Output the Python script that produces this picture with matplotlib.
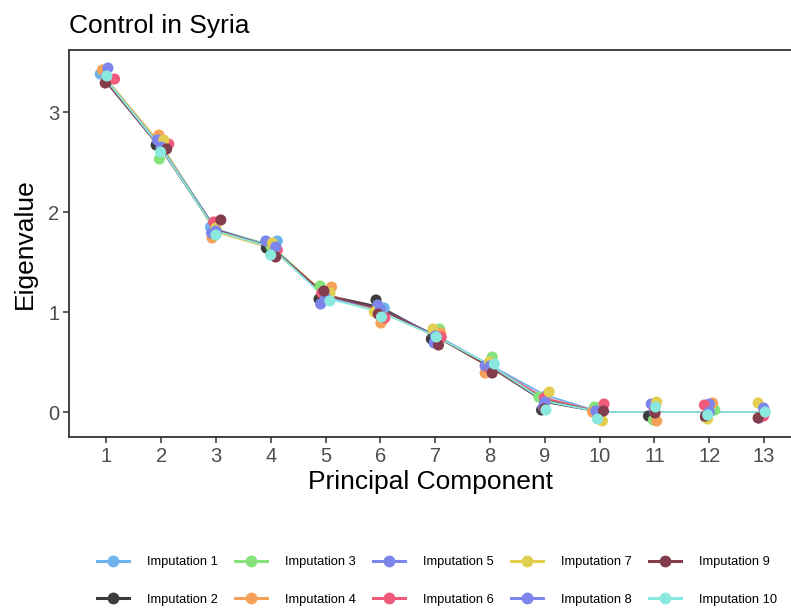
import matplotlib
matplotlib.use("Agg")
import matplotlib.pyplot as plt
from matplotlib.lines import Line2D

plt.rcParams["font.family"] = ["Liberation Sans", "DejaVu Sans"]

components = list(range(1, 14))
labels = [f"Imputation {i}" for i in range(1, 11)]
colors = ["#6FB3EE", "#3C3C3C", "#86E27A", "#F5A159", "#7D85EA",
          "#EF5A7B", "#E2CF52", "#7C86EB", "#833D4D", "#8AE8DE"]

# eigenvalues per imputation (lines)
eigen = [
    [3.33, 2.66, 1.83, 1.66, 1.16, 1.02, 0.77, 0.47, 0.17, 0, 0, 0, 0],
    [3.30, 2.64, 1.81, 1.65, 1.17, 1.05, 0.76, 0.45, 0.10, 0, 0, 0, 0],
    [3.32, 2.67, 1.82, 1.67, 1.17, 1.01, 0.77, 0.46, 0.13, 0, 0, 0, 0],
    [3.33, 2.67, 1.80, 1.65, 1.18, 1.01, 0.77, 0.45, 0.12, 0, 0, 0, 0],
    [3.32, 2.64, 1.82, 1.65, 1.15, 1.03, 0.76, 0.46, 0.12, 0, 0, 0, 0],
    [3.31, 2.65, 1.82, 1.65, 1.16, 1.02, 0.76, 0.46, 0.14, 0, 0, 0, 0],
    [3.33, 2.67, 1.80, 1.64, 1.16, 1.00, 0.76, 0.45, 0.12, 0, 0, 0, 0],
    [3.32, 2.65, 1.82, 1.66, 1.15, 1.03, 0.77, 0.46, 0.11, 0, 0, 0, 0],
    [3.30, 2.63, 1.82, 1.65, 1.17, 1.03, 0.76, 0.45, 0.12, 0, 0, 0, 0],
    [3.32, 2.64, 1.81, 1.65, 1.14, 1.00, 0.76, 0.47, 0.11, 0, 0, 0, 0],
]

# jittered point positions
point_x = [
    [0.89, 2.00, 2.90, 4.12, 5.00, 6.07, 7.00, 8.00, 9.03, 9.90, 11.00, 12.00, 13.00],
    [1.00, 1.91, 3.00, 3.92, 4.88, 5.92, 6.93, 7.95, 8.94, 10.00, 10.89, 11.93, 13.00],
    [1.00, 1.97, 3.00, 4.00, 4.90, 6.00, 7.08, 8.04, 8.89, 9.91, 10.98, 12.10, 13.00],
    [0.93, 1.96, 2.93, 4.05, 5.11, 6.01, 7.10, 7.91, 9.00, 9.87, 11.04, 12.06, 13.00],
    [1.03, 1.93, 2.92, 3.91, 4.91, 5.95, 6.98, 7.91, 8.97, 9.93, 10.94, 12.00, 12.91],
    [1.15, 2.14, 2.96, 4.12, 4.93, 6.08, 7.11, 8.00, 8.99, 10.08, 11.00, 11.91, 12.99],
    [1.00, 2.05, 3.00, 4.03, 5.08, 5.89, 6.96, 7.99, 9.08, 10.05, 11.04, 11.97, 12.89],
    [1.00, 2.00, 3.00, 4.09, 5.00, 6.00, 7.00, 8.00, 9.00, 10.00, 11.00, 12.00, 12.99],
    [0.98, 2.10, 3.09, 4.09, 4.97, 5.96, 7.06, 8.04, 8.99, 10.07, 11.01, 11.93, 12.89],
    [1.01, 1.99, 3.00, 4.00, 5.08, 6.02, 7.02, 8.08, 9.02, 9.96, 11.02, 11.97, 13.02],
]
point_y = [
    [3.38, 2.66, 1.85, 1.71, 1.15, 1.04, 0.77, 0.47, 0.17, 0.04, 0.00, 0.00, 0.01],
    [3.30, 2.67, 1.80, 1.64, 1.13, 1.12, 0.73, 0.44, 0.02, 0.00, -0.04, -0.05, -0.02],
    [3.34, 2.53, 1.82, 1.66, 1.26, 1.02, 0.83, 0.55, 0.15, 0.05, -0.08, 0.02, 0.01],
    [3.42, 2.77, 1.74, 1.67, 1.25, 0.89, 0.79, 0.39, 0.10, 0.00, -0.09, 0.09, 0.02],
    [3.44, 2.72, 1.79, 1.71, 1.08, 1.07, 0.69, 0.46, 0.05, 0.01, 0.08, 0.08, -0.06],
    [3.33, 2.68, 1.90, 1.62, 1.19, 0.94, 0.75, 0.43, 0.14, 0.08, 0.02, 0.07, -0.04],
    [3.35, 2.72, 1.84, 1.69, 1.19, 1.00, 0.83, 0.50, 0.20, -0.09, 0.10, -0.07, 0.09],
    [3.36, 2.65, 1.81, 1.65, 1.14, 1.03, 0.76, 0.46, 0.10, 0.00, 0.00, 0.00, 0.04],
    [3.29, 2.63, 1.92, 1.55, 1.21, 0.98, 0.67, 0.39, 0.03, 0.01, -0.01, -0.04, -0.06],
    [3.36, 2.60, 1.77, 1.57, 1.11, 0.95, 0.75, 0.48, 0.02, -0.07, 0.05, -0.03, 0.00],
]

fig = plt.figure(figsize=(7.91, 6.13), dpi=100)
ax = fig.add_axes([69 / 791, 1 - 437 / 613, 1 - 69 / 791, (437 - 50) / 613])

for ys, px, py, c in zip(eigen, point_x, point_y, colors):
    ax.plot(components, ys, color=c, lw=1.3, zorder=2)
    ax.scatter(px, py, s=64, color=c, edgecolors="none", zorder=3)

ax.set_xlim(0.32, 13.49)
ax.set_ylim(-0.25, 3.62)
ax.set_xticks(components)
ax.set_yticks([0, 1, 2, 3])
ax.tick_params(colors="#333333", labelcolor="#4D4D4D", labelsize=14.5,
               length=4, width=1.1, pad=3)
for side in ["left", "bottom", "top"]:
    ax.spines[side].set_color("#333333")
    ax.spines[side].set_linewidth(1.3)
ax.spines["right"].set_visible(False)

ax.set_xlabel("Principal Component", fontsize=19, labelpad=3)
ax.set_ylabel("Eigenvalue", fontsize=19, labelpad=8)
ax.set_title("Control in Syria", fontsize=19, loc="left", pad=12)

handles = [Line2D([0], [0], color=c, lw=2.2, marker="o", markersize=7.5)
           for c in colors]
fig.legend(handles, labels, loc="center", ncol=5,
           bbox_to_anchor=(437 / 791, 1 - 581 / 613), frameon=False,
           fontsize=9.3, handlelength=2.5, handletextpad=1.35,
           columnspacing=1.35, labelspacing=2.0)

fig.savefig("out.png", dpi=100)
